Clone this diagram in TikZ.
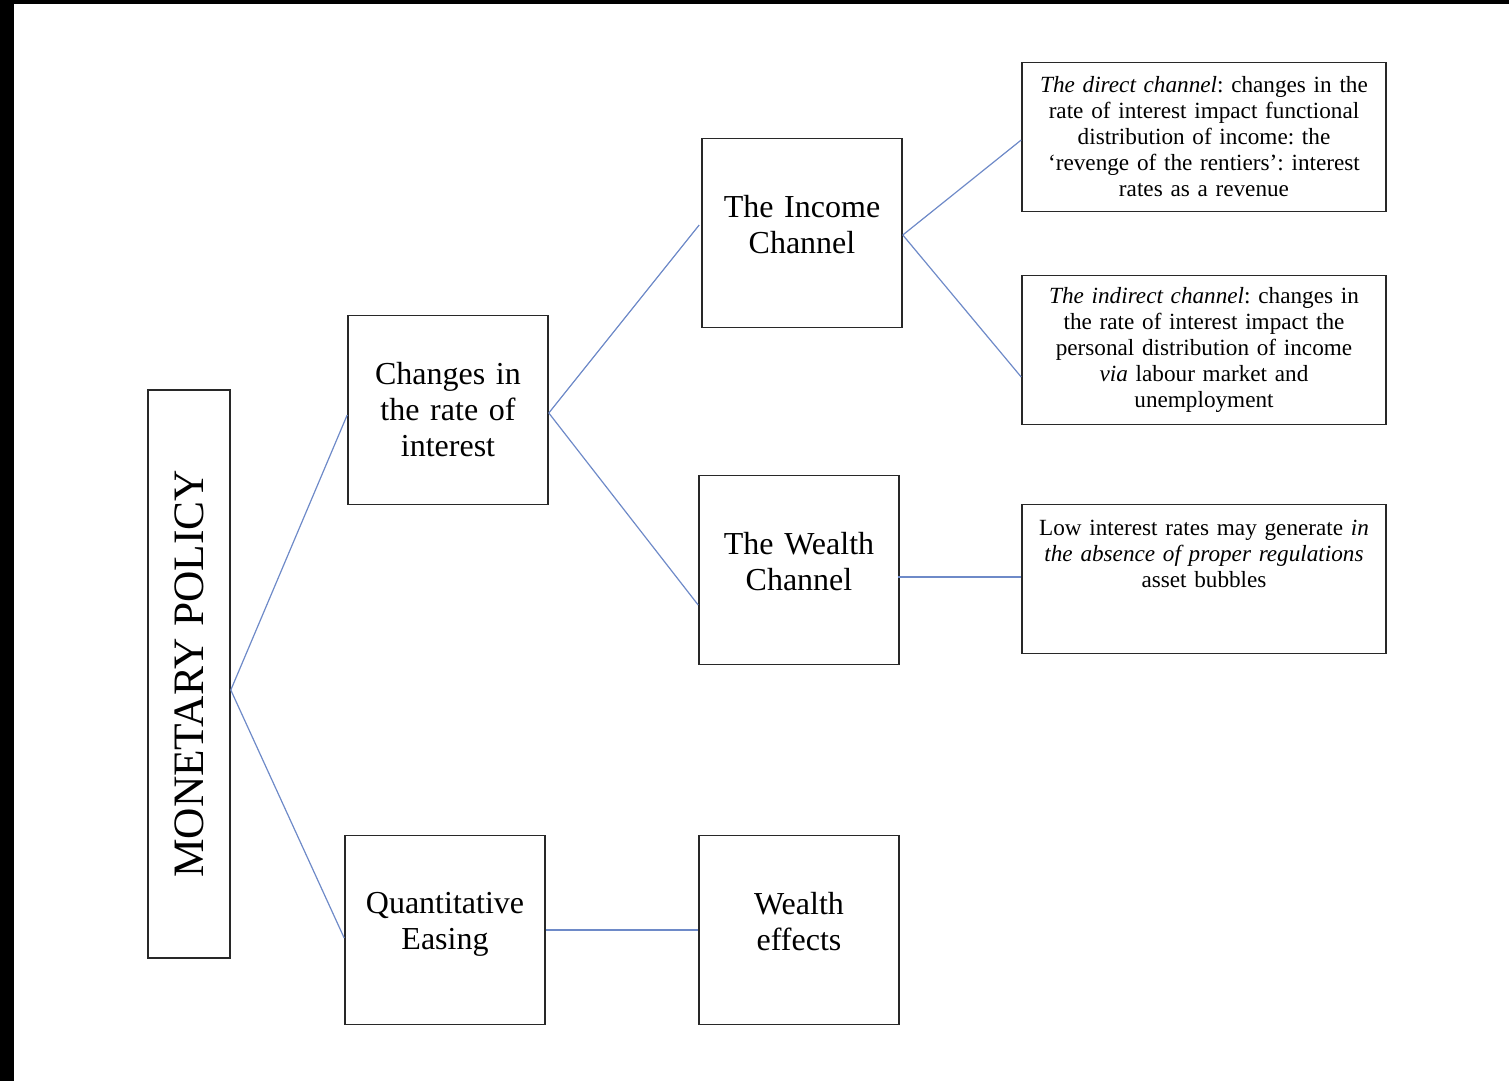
\documentclass[tikz,border=0pt]{standalone}
\usepackage{fontspec}
\setmainfont{Liberation Serif}
\usetikzlibrary{calc}
\definecolor{linkblue}{RGB}{110,138,200}
\definecolor{boxline}{RGB}{40,40,40}
\frenchspacing
\begin{document}
\begin{tikzpicture}[x=0.5pt,y=-0.5pt,
  bigbox/.style={draw=boxline,line width=0.8pt,minimum width=100pt,minimum height=94.5pt,
    inner sep=0pt,text width=92pt,align=center,font=\fontsize{16}{18}\selectfont},
  notebox/.style={draw=boxline,line width=0.8pt,minimum width=182pt,minimum height=74.5pt,
    inner sep=0pt,text width=176pt,align=center,font=\fontsize{11.6}{13}\selectfont},
  link/.style={draw=linkblue,line width=0.6pt}]
\useasboundingbox (0,0) rectangle (1509,1081);
% scan edges
\fill[black] (0,0) rectangle (1509,4);
\fill[black] (0,0) rectangle (14,1081);

\node[draw=boxline,line width=0.8pt,rotate=90,minimum width=284pt,minimum height=41pt,
  inner sep=0pt,font=\fontsize{21.7}{24}\selectfont] (mp) at (189,674) {MONETARY POLICY};

\node[bigbox] (rate) at (448,410) {Changes in\\the rate of\\interest};
\node[bigbox] (qe) at (445,930) {Quantitative\\Easing\\[-9pt]\mbox{}};
\node[bigbox] (income) at (802,233) {The Income\\Channel\\[-9pt]\mbox{}};
\node[bigbox] (wealth) at (799,570) {The Wealth\\Channel\\[-9pt]\mbox{}};
\node[bigbox] (effects) at (799,930) {Wealth\\effects\\[-9pt]\mbox{}};

\node[notebox] (direct) at (1204,137) {\textit{The direct channel}: changes in the\\rate of interest impact functional\\distribution of income: the\\`revenge of the rentiers': interest\\rates as a revenue};
\node[notebox] (indirect) at (1204,350) {\textit{The indirect channel}: changes in\\the rate of interest impact the\\personal distribution of income\\\textit{via} labour market and\\unemployment};
\node[notebox] (bubbles) at (1204,579) {Low interest rates may generate \textit{in}\\\textit{the absence of proper regulations}\\asset bubbles\\\rule{0pt}{24pt}};

% links
\draw[link] ($(mp.south)+(0,16)$) -- ($(rate.west)+(0,5)$);
\draw[link] ($(mp.south)+(0,16)$) -- ($(qe.west)+(0,8)$);
\draw[link] ($(rate.east)+(0,3)$) -- ($(income.west)+(-2,-8)$);
\draw[link] ($(rate.east)+(0,3)$) -- ($(wealth.west)+(0,35)$);
\draw[link] ($(income.east)+(0,2)$) -- ($(direct.west)+(0,3)$);
\draw[link] ($(income.east)+(0,2)$) -- ($(indirect.west)+(0,27)$);
\draw[link] ($(wealth.east)+(-2,7)$) -- ($(bubbles.west)+(0,-2)$);
\draw[link] (qe.east) -- (effects.west);

\end{tikzpicture}
\end{document}
